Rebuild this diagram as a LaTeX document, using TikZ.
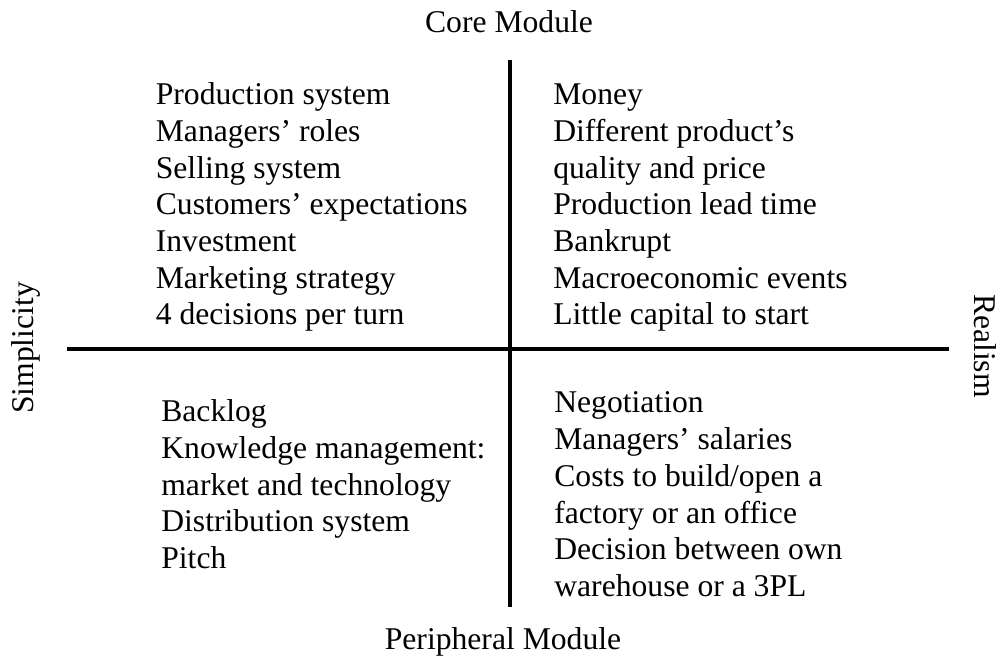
\documentclass[tikz,border=0pt]{standalone}
\usepackage{fontspec}
\setmainfont{Liberation Serif}
\usetikzlibrary{positioning}

\tikzset{
  axis/.style={line width=2.2pt},
  items/.style={anchor=base west, align=left, inner sep=0pt,
                font=\fontsize{18}{20.9}\selectfont},
  pole/.style={anchor=base, inner sep=0pt, font=\fontsize{18}{20.9}\selectfont}
}

\begin{document}
\begin{tikzpicture}
    \useasboundingbox (0,0) rectangle (20,13.14);
    \path (10.2,11.94)  node[coordinate] (top) {}
          (10.2, 1.0 )  node[coordinate] (bot) {}
          (1.34, 6.16)  node[coordinate] (lft) {}
          (18.98,6.16)  node[coordinate] (rgt) {};

    \draw[axis] (top) -- (bot);
    \draw[axis] (lft) -- (rgt);

    \node[pole] (core) at (10.18,12.48) {Core Module};
    \node[pole] (peri) at (10.06, 0.14) {Peripheral Module};
    \node[pole, rotate=90 ] (simp) at ( 0.66,6.18) {Simplicity};
    \node[pole, rotate=-90] (real) at (19.48,6.22) {Realism};

    % base of a multi-line node is its last line
    \node[items] (tl) at ( 3.11,6.64) {Production system\\ Managers' roles\\ Selling system\\
      Customers' expectations\\ Investment\\ Marketing strategy\\ 4 decisions per turn};
    \node[items] (tr) at (11.06,6.64) {Money\\ Different product's\\ quality and price\\
      Production lead time\\ Bankrupt\\ Macroeconomic events\\ Little capital to start};
    \node[items] (bl) at ( 3.22,1.77) {Backlog\\ Knowledge management:\\ market and technology\\
      Distribution system\\ Pitch};
    \node[items] (br) at (11.08,1.21) {Negotiation\\ Managers' salaries\\ Costs to build/open a\\
      factory or an office\\ Decision between own\\ warehouse or a 3PL};
\end{tikzpicture}
\end{document}
